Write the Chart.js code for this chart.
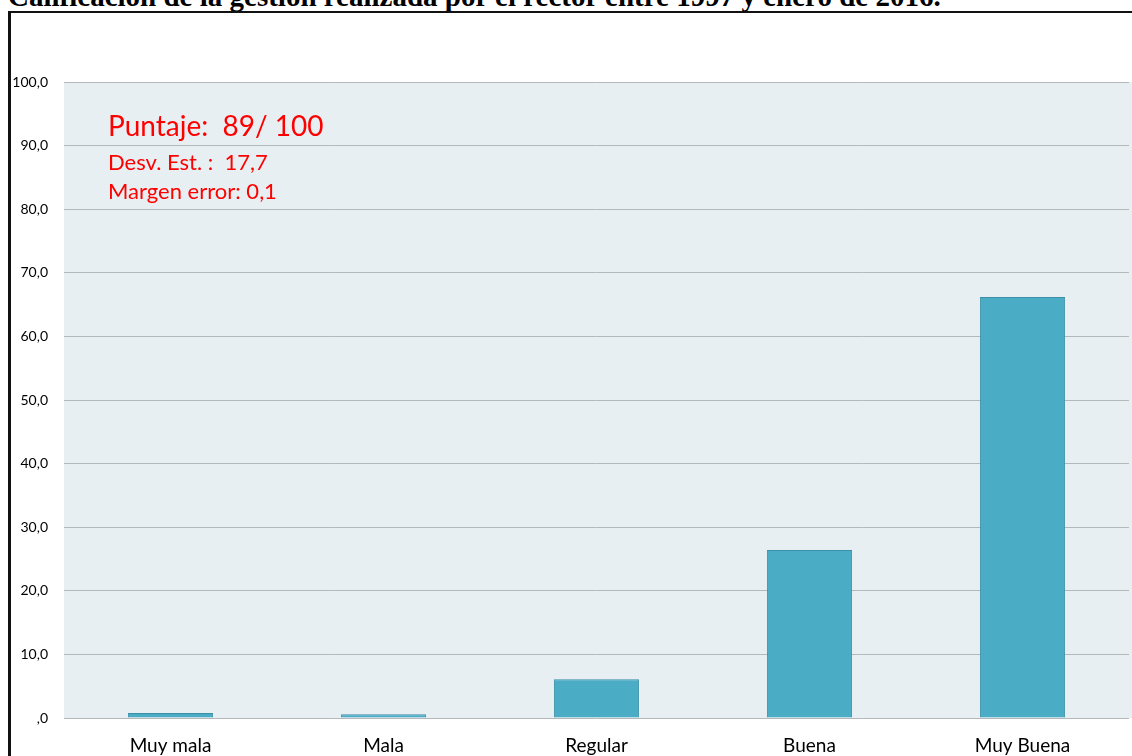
<!DOCTYPE html>
<html>
<head>
<meta charset="utf-8">
<script src="https://cdn.jsdelivr.net/npm/chart.js@4"></script>
<style>
    body { margin: 0; background: #fff; }
    #caja { position: relative; width: 1132px; height: 756px; overflow: hidden; }
    #titulo {
        position: absolute; left: 8px; top: -18px; white-space: nowrap;
        font-family: "Liberation Serif", serif; font-weight: bold; font-size: 29px; line-height: 29px;
    }
    #marco { position: absolute; left: 8px; top: 11px; width: 1130px; height: 760px;
        border-top: 2px solid #111; border-left: 3px solid #111; }
    #grafico { position: absolute; left: 0; top: 0; }
</style>
</head>
<body>
<div id="caja">
    <div id="titulo">Calificación de la gestión realizada por el rector entre 1997 y enero de 2016.</div>
    <div id="marco"></div>
    <canvas id="grafico" width="1132" height="756"></canvas>
</div>
<script>
// datos del grafico
const categorias = ['Muy mala', 'Mala', 'Regular', 'Buena', 'Muy Buena'];
const porcentajes = [0.8, 0.6, 6.1, 26.4, 66.2];
const etiquetasY = [',0', '10,0', '20,0', '30,0', '40,0', '50,0', '60,0', '70,0', '80,0', '90,0', '100,0'];
const textosPuntaje = ['Puntaje:  89/ 100', 'Desv. Est. :  17,7', 'Margen error: 0,1'];

/*
    fondo gris azulado del area de trazado
*/
const fondoArea = {
    id: 'fondoArea',
    beforeDraw(chart) {
        let a = chart.chartArea;
        let ctx = chart.ctx;
        ctx.save();
        ctx.fillStyle = '#E8EFF3';
        ctx.fillRect(a.left, a.top, chart.width - a.left, a.bottom - a.top);
        ctx.restore();
    }
};

/*
    textos rojos con el puntaje
*/
const cuadroPuntaje = {
    id: 'cuadroPuntaje',
    afterDraw(chart) {
        let a = chart.chartArea;
        let ctx = chart.ctx;
        ctx.save();
        ctx.fillStyle = '#FF0000';
        ctx.textBaseline = 'alphabetic';
        ctx.font = '28px Lato';
        ctx.fillText(textosPuntaje[0], a.left + 44, a.top + 54);
        ctx.font = '22px Lato';
        ctx.fillText(textosPuntaje[1], a.left + 44, a.top + 88);
        ctx.fillText(textosPuntaje[2], a.left + 44, a.top + 117);
        ctx.restore();
    }
};

let grafico = document.getElementById('grafico');
let myChart = new Chart(grafico, {
    type: 'bar',
    data: {
        labels: categorias,
        datasets: [{
            data: porcentajes,
            backgroundColor: '#4BACC6',
            borderColor: '#3D8FA8',
            borderWidth: 1,
            categoryPercentage: 1,
            barPercentage: 0.4
        }]
    },
    options: {
        responsive: false,
        animation: false,
        layout: { padding: { top: 82, right: 3, left: 0, bottom: 0 } },
        plugins: { legend: { display: false }, tooltip: { enabled: false } },
        scales: {
            x: {
                grid: { display: false },
                border: { display: false },
                ticks: { color: '#000', font: { family: 'Lato', size: 19 }, padding: 8 },
                afterFit(scale) { scale.height = 38; }
            },
            y: {
                min: 0,
                max: 100,
                grid: { color: '#B4B8BA', lineWidth: 1, drawTicks: false },
                border: { display: false },
                ticks: {
                    stepSize: 10,
                    color: '#000',
                    padding: 16,
                    font: { family: 'Lato', size: 14 },
                    callback: (v, i) => etiquetasY[i]
                },
                afterFit(scale) { scale.width = 64; }
            }
        }
    },
    plugins: [fondoArea, cuadroPuntaje]
});
</script>
</body>
</html>
